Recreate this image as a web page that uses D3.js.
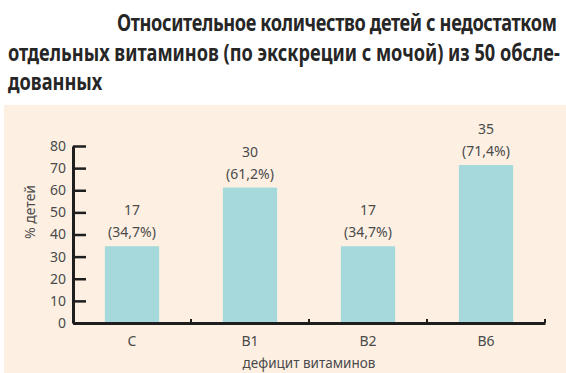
<!DOCTYPE html>
<html lang="ru">
<head>
<meta charset="UTF-8">
<title>Дефицит витаминов</title>
<script src="https://cdn.jsdelivr.net/npm/d3@7"></script>
<style>
  body { margin: 0; background: #fff; }
  svg text { font-family: "Noto Sans", sans-serif; }
</style>
</head>
<body>
<div id="chart"></div>
<script>
// data
const titleLines = [
  "Относительное количество детей с недостатком",
  "отдельных витаминов (по экскреции с мочой) из 50 обсле-",
  "дованных"
];
const vitamins = ["C", "B1", "B2", "B6"];
const childCounts = [17, 30, 17, 35];
const percents = [34.7, 61.2, 34.7, 71.4];
const yTicks = [0, 10, 20, 30, 40, 50, 60, 70, 80];
const xTitle = "дефицит витаминов";
const yTitle = "% детей";

const width = 566, height = 373;
const margin = { top: 146, right: 21, bottom: 50, left: 73 };

const data = vitamins.map((v, i) => ({ name: v, count: childCounts[i], pct: percents[i] }));

const svg = d3.select("#chart").append("svg")
  .attr("width", width)
  .attr("height", height);

// peach panel
svg.append("rect")
  .attr("x", 4).attr("y", 105)
  .attr("width", width - 4).attr("height", height - 105)
  .attr("fill", "#fdf0e3");

// title: bold condensed; size picked so line 2 fits, then stretched taller
const title = svg.append("g")
  .style("font-family", "'Liberation Sans Narrow', 'DejaVu Sans Condensed', sans-serif")
  .style("font-weight", "bold")
  .attr("fill", "#262626");
const probe = title.append("text").style("font-size", "24px").text(titleLines[1]);
const fs = 24 * 552 / probe.node().getComputedTextLength();
probe.remove();
const stretch = 22.5 / fs;
// [left, right, baseline]; line 1 is set to span its width via letter-spacing
const titlePos = [[117, 557, 31], [8, null, 61], [8, null, 90]];
titleLines.forEach((line, i) => {
  const t = title.append("text")
    .style("font-size", fs + "px")
    .text(line);
  const [lx, rx, by] = titlePos[i];
  if (rx !== null) {
    const w = t.node().getComputedTextLength();
    t.style("letter-spacing", ((rx - lx - w) / (line.length - 1)) + "px");
  }
  t.attr("transform", `translate(${lx}, ${by}) scale(1, ${stretch})`);
});

const x = d3.scaleBand()
  .domain(vitamins)
  .range([margin.left, width - margin.right])
  .padding(0);

const y = d3.scaleLinear()
  .domain([0, 80])
  .range([height - margin.bottom, margin.top]);

const barW = x.bandwidth() * 0.46;

svg.selectAll("rect.bar")
  .data(data)
  .join("rect")
  .attr("class", "bar")
  .attr("x", d => x(d.name) + (x.bandwidth() - barW) / 2)
  .attr("y", d => y(d.pct))
  .attr("width", barW)
  .attr("height", d => y(0) - y(d.pct))
  .attr("fill", "#a6d9dc");

// value labels
const labels = svg.selectAll("text.val")
  .data(data)
  .join("text")
  .attr("class", "val")
  .attr("text-anchor", "middle")
  .attr("fill", "#4a4a4a")
  .style("font-size", "14px");
labels.append("tspan")
  .attr("x", d => x(d.name) + x.bandwidth() / 2)
  .attr("y", d => y(d.pct) - 31)
  .text(d => d.count);
labels.append("tspan")
  .attr("x", d => x(d.name) + x.bandwidth() / 2)
  .attr("y", d => y(d.pct) - 9)
  .text(d => "(" + d3.format(".1f")(d.pct).replace(".", ",") + "%)");

// y axis, ticks pointing inward
const yAxis = d3.axisLeft(y)
  .tickValues(yTicks)
  .tickSize(-13)
  .tickSizeOuter(0)
  .tickPadding(7);

const gy = svg.append("g")
  .attr("transform", `translate(${margin.left}, 0)`)
  .call(yAxis);
gy.select(".domain").attr("stroke", "#1e1e1e").attr("stroke-width", 3);
gy.selectAll(".tick line").attr("stroke", "#1e1e1e").attr("stroke-width", 2.5);
gy.selectAll(".tick text")
  .attr("fill", "#4a4a4a")
  .style("font-size", "14px")
  .style("font-family", "'Noto Sans', sans-serif");

// x axis
const xAxis = d3.axisBottom(x)
  .tickSize(0)
  .tickSizeOuter(0)
  .tickPadding(13);

const gx = svg.append("g")
  .attr("transform", `translate(0, ${y(0)})`)
  .call(xAxis);
gx.select(".domain").attr("stroke", "#1e1e1e").attr("stroke-width", 3);
gx.selectAll(".tick text")
  .attr("fill", "#4a4a4a")
  .style("font-size", "14px")
  .style("font-family", "'Noto Sans', sans-serif");

// small dividers between categories
const dividers = vitamins.slice(1).map(v => x(v)).concat([x.range()[1]]);
gx.selectAll("line.div")
  .data(dividers)
  .join("line")
  .attr("class", "div")
  .attr("x1", d => d).attr("x2", d => d)
  .attr("y1", 0).attr("y2", -4)
  .attr("stroke", "#1e1e1e")
  .attr("stroke-width", 2);

// axis titles
svg.append("text")
  .attr("x", (x.range()[0] + x.range()[1]) / 2)
  .attr("y", 368)
  .attr("text-anchor", "middle")
  .attr("fill", "#4a4a4a")
  .style("font-size", "13.5px")
  .text(xTitle);

svg.append("text")
  .attr("transform", "translate(35, 212) rotate(-90)")
  .attr("text-anchor", "middle")
  .attr("fill", "#4a4a4a")
  .style("font-size", "14px")
  .text(yTitle);
</script>
</body>
</html>
